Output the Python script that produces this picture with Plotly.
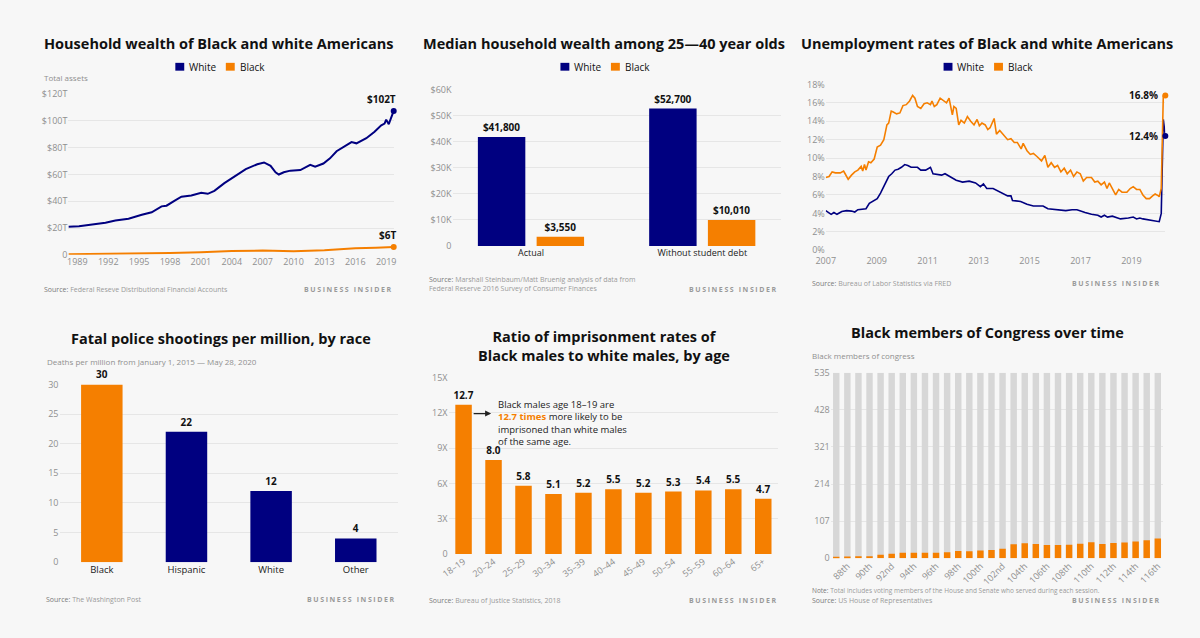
import plotly.graph_objects as go

W, H = 1200, 638
BG = "#f7f7f7"
NAVY = "#000080"
ORANGE = "#F57F00"
GRAY_BAR = "#d7d7d7"
GRID = "#e6e6e6"
TICK = "#8f8f8f"
DARK = "#1a1a1a"
FONT = "Open Sans"

# ---------------- data ----------------
# Household wealth (trillions USD)
wealth_white_t = [1988.13, 1989.16, 1990.44, 1991.73, 1992.69, 1993.97, 1995.26, 1996.22, 1997.18, 1997.66,
                  1998.46, 1999.11, 2000.07, 2001.03, 2001.67, 2002.31, 2003.28, 2004.24, 2005.36, 2006.48,
                  2007.13, 2007.77, 2008.25, 2008.57, 2009.05, 2009.69, 2010.66, 2011.62, 2012.10, 2012.90,
                  2013.54, 2014.18, 2015.15, 2015.63, 2016.11, 2017.07, 2017.87, 2018.52, 2018.84, 2019.00,
                  2019.25, 2019.48, 2019.73]
wealth_white = [20.9, 21.4, 22.6, 24.0, 25.7, 27.0, 29.9, 31.8, 36.2, 36.7,
                40.5, 43.4, 44.4, 46.4, 45.6, 47.8, 53.6, 58.7, 64.0, 67.7,
                69.0, 66.5, 61.6, 60.0, 61.7, 62.9, 63.3, 67.2, 65.8, 68.2,
                72.1, 77.4, 82.3, 84.2, 83.3, 87.1, 92.0, 96.8, 98.0, 101.0,
                97.6, 103.0, 107.5]
wealth_black_t = [1988.13, 1992.0, 1995.0, 1998.0, 2001.0, 2004.0, 2007.0, 2010.0, 2013.0, 2016.0, 2018.0, 2019.73]
wealth_black = [0.5, 0.7, 0.9, 1.3, 1.9, 2.9, 3.2, 2.7, 3.4, 4.9, 5.3, 5.8]
wealth_labels = ["$102T", "$6T"]

# Median household wealth, 25-40 year olds
median_groups = ["Actual", "Without student debt"]
median_white = [41800, 52700]
median_black = [3550, 10010]

# Unemployment rates (%)
unemp_white_t = [2007.00, 2007.13, 2007.21, 2007.32, 2007.44, 2007.63, 2007.82, 2008.01, 2008.14, 2008.26,
                 2008.45, 2008.58, 2008.71, 2008.90, 2009.02, 2009.15, 2009.34, 2009.47, 2009.59, 2009.72,
                 2009.84, 2009.97, 2010.10, 2010.22, 2010.35, 2010.48, 2010.60, 2010.73, 2010.92, 2011.05,
                 2011.11, 2011.21, 2011.36, 2011.55, 2011.68, 2011.87, 2012.12, 2012.37, 2012.63, 2012.88,
                 2013.07, 2013.19, 2013.32, 2013.57, 2013.89, 2014.14, 2014.27, 2014.33, 2014.65, 2014.90,
                 2015.15, 2015.53, 2015.72, 2016.04, 2016.17, 2016.42, 2016.67, 2016.86, 2017.18, 2017.43,
                 2017.68, 2017.81, 2017.94, 2018.06, 2018.25, 2018.57, 2018.88, 2019.07, 2019.20, 2019.33,
                 2019.45, 2019.71, 2020.02, 2020.09, 2020.17, 2020.25, 2020.33]
unemp_white = [4.3, 4.1, 3.9, 4.1, 3.9, 4.2, 4.3, 4.25, 4.15, 4.4,
               4.5, 4.5, 5.1, 5.4, 5.6, 6.2, 7.3, 8.0, 8.3, 8.7,
               8.8, 9.0, 9.3, 9.2, 9.0, 9.0, 9.0, 8.7, 8.7, 8.9,
               9.0, 8.3, 8.2, 8.15, 8.3, 8.0, 7.6, 7.4, 7.5, 7.3,
               6.9, 7.2, 6.7, 6.7, 6.3, 5.9, 5.9, 5.4, 5.3, 5.0,
               4.8, 4.8, 4.5, 4.4, 4.4, 4.3, 4.4, 4.4, 4.1, 3.9,
               3.8, 3.6, 3.8, 3.6, 3.7, 3.4, 3.5, 3.6, 3.4, 3.5,
               3.4, 3.3, 3.2, 3.1, 4.0, 14.2, 12.4]
unemp_black_t = [2007.00, 2007.13, 2007.25, 2007.38, 2007.57, 2007.70, 2007.76, 2007.88, 2008.01, 2008.14,
                 2008.26, 2008.33, 2008.39, 2008.45, 2008.52, 2008.58, 2008.68, 2008.77, 2008.90, 2009.02,
                 2009.15, 2009.28, 2009.40, 2009.47, 2009.57, 2009.65, 2009.78, 2009.91, 2010.03, 2010.16,
                 2010.29, 2010.41, 2010.50, 2010.60, 2010.73, 2010.86, 2010.98, 2011.11, 2011.17, 2011.26,
                 2011.36, 2011.49, 2011.61, 2011.74, 2011.84, 2011.97, 2012.03, 2012.12, 2012.22, 2012.31,
                 2012.44, 2012.56, 2012.69, 2012.82, 2012.94, 2013.03, 2013.13, 2013.26, 2013.36, 2013.45,
                 2013.61, 2013.70, 2013.83, 2014.02, 2014.14, 2014.27, 2014.40, 2014.52, 2014.67, 2014.75,
                 2014.90, 2015.03, 2015.15, 2015.28, 2015.47, 2015.60, 2015.72, 2015.85, 2015.98, 2016.10,
                 2016.23, 2016.36, 2016.48, 2016.61, 2016.73, 2016.86, 2016.99, 2017.11, 2017.24, 2017.43,
                 2017.56, 2017.68, 2017.81, 2017.94, 2018.04, 2018.13, 2018.25, 2018.38, 2018.50, 2018.63,
                 2018.82, 2018.95, 2019.07, 2019.20, 2019.33, 2019.45, 2019.58, 2019.71, 2019.83, 2019.93,
                 2020.06, 2020.09, 2020.17, 2020.25, 2020.33]
unemp_black = [7.9, 8.0, 8.5, 8.4, 8.4, 8.6, 8.3, 7.7, 8.15, 8.5,
               8.7, 8.9, 9.1, 8.6, 9.3, 8.7, 9.6, 9.5, 9.9, 11.2,
               11.4, 12.0, 13.6, 13.8, 15.1, 15.0, 14.8, 14.9, 15.7, 15.8,
               16.2, 16.8, 16.5, 15.6, 15.4, 15.9, 16.0, 15.8, 16.2, 15.6,
               15.8, 16.5, 16.3, 16.0, 16.5, 14.7, 15.6, 15.4, 13.6, 14.1,
               13.8, 14.5, 14.0, 13.6, 14.2, 13.5, 13.8, 13.6, 13.1, 13.3,
               14.3, 12.6, 13.0, 12.4, 12.0, 12.1, 11.7, 11.7, 11.0, 11.6,
               10.8, 10.4, 10.5, 10.2, 9.7, 10.3, 9.0, 9.5, 9.0, 9.2,
               8.5, 8.9, 8.3, 8.7, 8.0, 8.5, 8.3, 7.5, 7.9, 7.9,
               7.4, 7.5, 7.1, 7.4, 6.7, 7.3, 6.6, 6.0, 6.6, 6.3,
               6.3, 6.7, 6.9, 6.6, 6.6, 6.0, 5.6, 5.6, 5.9, 6.1,
               5.9, 5.8, 6.7, 16.7, 16.8]
unemp_labels = ["12.4%", "16.8%"]

# Fatal police shootings per million
police_races = ["Black", "Hispanic", "White", "Other"]
police_rates = [30, 22, 12, 4]

# Imprisonment ratio by age
ages = ["18–19", "20–24", "25–29", "30–34", "35–39", "40–44", "45–49", "50–54", "55–59", "60–64", "65+"]
ratios = [12.7, 8.0, 5.8, 5.1, 5.2, 5.5, 5.2, 5.3, 5.4, 5.5, 4.7]

# Black members of Congress
sessions = ["87th", "88th", "89th", "90th", "91st", "92nd", "93rd", "94th", "95th", "96th",
            "97th", "98th", "99th", "100th", "101st", "102nd", "103rd", "104th", "105th", "106th",
            "107th", "108th", "109th", "110th", "111th", "112th", "113th", "114th", "115th", "116th"]
black_members = [4, 5, 6, 6, 10, 13, 16, 16, 16, 16,
                 17, 21, 20, 22, 24, 27, 40, 43, 41, 38,
                 38, 39, 42, 46, 41, 44, 45, 48, 52, 57]
total_seats = 535
session_ticks = sessions[1::2]


# ---------------- helpers ----------------
def px(p):
    return p / W


def py(p):
    return 1 - p / H


def xdom(a, b):
    return [px(a), px(b)]


def ydom(top, bottom):
    return [py(bottom), py(top)]


annotations = []
shapes = []


def text(x, y, s, size=9, color=DARK, xanchor="left", yanchor="middle", bold=False, align="left", weight=None):
    f = dict(family=FONT, size=size, color=color)
    if bold:
        f["weight"] = "bold"
    elif weight:
        f["weight"] = weight
    annotations.append(dict(x=px(x), y=py(y), xref="paper", yref="paper", text=s, showarrow=False,
                            xanchor=xanchor, yanchor=yanchor, font=f, align=align))


def title(cx, cy, s):
    text(cx, cy, s, size=14.5, color="#111", xanchor="center", bold=True, align="center")


def legend(x0, y0):
    shapes.append(dict(type="rect", xref="paper", yref="paper", x0=px(x0), x1=px(x0 + 9),
                       y0=py(y0 + 4), y1=py(y0 - 4), fillcolor=NAVY, line=dict(width=0)))
    text(x0 + 12, y0, "White", size=10, color="#111")
    shapes.append(dict(type="rect", xref="paper", yref="paper", x0=px(x0 + 51), x1=px(x0 + 60),
                       y0=py(y0 + 4), y1=py(y0 - 4), fillcolor=ORANGE, line=dict(width=0)))
    text(x0 + 63, y0, "Black", size=10, color="#111")


def source(x, y, s):
    text(x, y, "<span style='color:#7a7a7a'>Source:</span> " + s, size=7, color="#9a9a9a")


def brand(xr, y):
    text(xr, y, "<span style='letter-spacing:1.6px'>BUSINESS INSIDER</span>", size=7, color="#9a9a9a",
         xanchor="right", bold=True)


def yax(domain, rng, tickvals, ticktext, anchor):
    return dict(domain=domain, range=rng, tickvals=tickvals, ticktext=ticktext, showgrid=True,
                gridcolor=GRID, gridwidth=1, zeroline=False, showline=False, ticks="",
                tickfont=dict(family=FONT, size=9, color=TICK), anchor=anchor, fixedrange=True)


def xax(domain, anchor, **kw):
    d = dict(domain=domain, showgrid=False, zeroline=False, showline=False, ticks="",
             tickfont=dict(family=FONT, size=9, color=TICK), anchor=anchor, fixedrange=True)
    d.update(kw)
    return d


fig = go.Figure()

# ---------- Panel 1: household wealth ----------
fig.add_trace(go.Scatter(x=wealth_white_t, y=wealth_white, mode="lines", line=dict(color=NAVY, width=2),
                         xaxis="x", yaxis="y", cliponaxis=False))
fig.add_trace(go.Scatter(x=wealth_black_t, y=wealth_black, mode="lines", line=dict(color=ORANGE, width=2),
                         xaxis="x", yaxis="y", cliponaxis=False))
fig.add_trace(go.Scatter(x=[wealth_white_t[-1], wealth_black_t[-1]], y=[wealth_white[-1], wealth_black[-1]],
                         mode="markers", marker=dict(color=[NAVY, ORANGE], size=6),
                         xaxis="x", yaxis="y", cliponaxis=False))
for xv, yv, lab in [(wealth_white_t[-1], wealth_white[-1], wealth_labels[0]),
                    (wealth_black_t[-1], wealth_black[-1], wealth_labels[1])]:
    annotations.append(dict(x=xv, y=yv, xref="x", yref="y", text="<b>" + lab + "</b>", showarrow=False,
                            xanchor="right", yanchor="bottom", xshift=4, yshift=3,
                            font=dict(family=FONT, size=10, color="#111")))
title(211, 37, "Household wealth of Black and white Americans")
legend(167, 61)
text(32, 72, "Total assets", size=8, color=TICK)
source(32, 288, "Federal Reseve Distributional Financial Accounts")
brand(389, 288)

# ---------- Panel 2: median wealth ----------
fig.add_trace(go.Bar(x=median_groups, y=median_white, marker=dict(color=NAVY, line=dict(width=0)),
                     width=0.277, offset=-0.31, xaxis="x2", yaxis="y2",
                     texttemplate="<b>$%{y:,}</b>", textposition="outside", cliponaxis=False,
                     constraintext="none", textfont=dict(family=FONT, size=10, color="#111")))
fig.add_trace(go.Bar(x=median_groups, y=median_black, marker=dict(color=ORANGE, line=dict(width=0)),
                     width=0.277, offset=0.033, xaxis="x2", yaxis="y2",
                     texttemplate="<b>$%{y:,}</b>", textposition="outside", cliponaxis=False,
                     constraintext="none", textfont=dict(family=FONT, size=10, color="#111")))
title(600, 37, "Median household wealth among 25—40 year olds")
legend(556, 61)
text(421, 283, "<span style='color:#7a7a7a'>Source:</span> Marshall Steinbaum/Matt Bruenig analysis of data from"
     "<br>Federal Reserve 2016 Survey of Consumer Finances", size=7, color="#9a9a9a")
brand(778, 288)

# ---------- Panel 3: unemployment ----------
fig.add_trace(go.Scatter(x=unemp_white_t, y=unemp_white, mode="lines", line=dict(color=NAVY, width=1.6),
                         xaxis="x3", yaxis="y3", cliponaxis=False))
fig.add_trace(go.Scatter(x=unemp_black_t, y=unemp_black, mode="lines", line=dict(color=ORANGE, width=1.6),
                         xaxis="x3", yaxis="y3", cliponaxis=False))
fig.add_trace(go.Scatter(x=[unemp_white_t[-1], unemp_black_t[-1]], y=[unemp_white[-1], unemp_black[-1]],
                         mode="markers", marker=dict(color=[NAVY, ORANGE], size=6),
                         xaxis="x3", yaxis="y3", cliponaxis=False))
for xv, yv, lab in [(unemp_white_t[-1], unemp_white[-1], unemp_labels[0]),
                    (unemp_black_t[-1], unemp_black[-1], unemp_labels[1])]:
    annotations.append(dict(x=xv, y=yv, xref="x3", yref="y3", text="<b>" + lab + "</b>", showarrow=False,
                            xanchor="right", yanchor="middle", xshift=-5,
                            font=dict(family=FONT, size=10, color="#111")))
title(987, 37, "Unemployment rates of Black and white Americans")
legend(943, 61)
source(808, 282, "Bureau of Labor Statistics via FRED")
brand(1165, 282)

# ---------- Panel 4: police shootings ----------
fig.add_trace(go.Bar(x=police_races, y=police_rates, marker=dict(color=[ORANGE, NAVY, NAVY, NAVY], line=dict(width=0)),
                     width=0.49, xaxis="x4", yaxis="y4", texttemplate="<b>%{y}</b>", textposition="outside",
                     cliponaxis=False, constraintext="none", textfont=dict(family=FONT, size=10, color="#111")))
title(213, 338, "Fatal police shootings per million, by race")
text(35, 362, "Deaths per million from January 1, 2015 — May 28, 2020", size=8, color=TICK)
source(34, 605, "The Washington Post")
brand(392, 605)

# ---------- Panel 5: imprisonment ratio ----------
fig.add_trace(go.Bar(x=ages, y=ratios, marker=dict(color=ORANGE, line=dict(width=0)),
                     width=0.55, xaxis="x5", yaxis="y5", texttemplate="<b>%{y:.1f}</b>", textposition="outside",
                     cliponaxis=False, constraintext="none", textfont=dict(family=FONT, size=10, color="#111")))
title(600, 346.5, "Ratio of imprisonment rates of<br>Black males to white males, by age")
text(490.5, 397, "Black males age 18–19 are<br><span style='color:#F57F00'><b>12.7 times</b></span> more likely to be"
     "<br>imprisoned than white males<br>of the same age.", size=9.5, color="#222", yanchor="top")
annotations.append(dict(x=px(486), y=py(415), xref="paper", yref="paper", ax=-19, ay=0,
                        axref="pixel", ayref="pixel", text="", showarrow=True, arrowhead=2, arrowsize=1,
                        arrowwidth=1.2, arrowcolor="#222"))
source(421, 606, "Bureau of Justice Statistics, 2018")
brand(778, 606)

# ---------- Panel 6: Congress ----------
fig.add_trace(go.Bar(x=sessions, y=[total_seats] * len(sessions), marker=dict(color=GRAY_BAR, line=dict(width=0)),
                     width=0.58, xaxis="x6", yaxis="y6"))
fig.add_trace(go.Bar(x=sessions, y=black_members, marker=dict(color=ORANGE, line=dict(width=0)),
                     width=0.58, xaxis="x6", yaxis="y6"))
title(987, 332, "Black members of Congress over time")
text(808, 356, "Black members of congress", size=8, color=TICK)
text(808, 596, "<span style='color:#7a7a7a'>Note:</span> Total includes voting members of the House and Senate who served during each session.",
     size=6.5, color="#9a9a9a")
source(808, 606, "US House of Representatives")
brand(1165, 606)

# ---------------- layout ----------------
fig.update_layout(
    width=W, height=H, margin=dict(l=0, r=0, t=0, b=0), autosize=False,
    paper_bgcolor=BG, plot_bgcolor=BG, showlegend=False, barmode="overlay",
    font=dict(family=FONT),
    annotations=annotations, shapes=shapes,
    # panel 1
    xaxis=xax(xdom(59, 388), "y", range=[1988.13, 2019.77], tickvals=list(range(1989, 2020, 3))),
    yaxis=yax(ydom(89, 253), [0, 120], [0, 20, 40, 60, 80, 100, 120],
              ["0", "$20T", "$40T", "$60T", "$80T", "$100T", "$120T"], "x"),
    # panel 2
    xaxis2=xax(xdom(447, 779), "y2", type="category", range=[-0.458, 1.461],
               tickfont=dict(family=FONT, size=9, color=DARK)),
    yaxis2=yax(ydom(84.3, 244), [0, 60000], [0, 10000, 20000, 30000, 40000, 50000, 60000],
               ["0", "$10K", "$20K", "$30K", "$40K", "$50K", "$60K"], "x2"),
    # panel 3
    xaxis3=xax(xdom(824, 1167), "y3", range=[2007.0, 2020.33], tickvals=list(range(2007, 2020, 2)),
               ticklabelstandoff=4),
    yaxis3=yax(ydom(79, 248.3), [0, 18], list(range(0, 19, 2)), [f"{v}%" for v in range(0, 19, 2)], "x3"),
    # panel 4
    xaxis4=xax(xdom(50, 392), "y4", type="category", tickfont=dict(family=FONT, size=9.5, color=DARK)),
    yaxis4=yax(ydom(385.3, 566.7), [0, 30], [0, 5, 10, 15, 20, 25, 30], ["0", "5", "10", "15", "20", "25", "30"], "x4"),
    # panel 5
    xaxis5=xax(xdom(443, 776), "y5", type="category", tickangle=-35),
    yaxis5=yax(ydom(378.3, 558.3), [0, 15], [0, 3, 6, 9, 12, 15], ["0", "3X", "6X", "9X", "12X", "15X"], "x5"),
    # panel 6
    xaxis6=xax(xdom(829, 1165), "y6", type="category", tickangle=-45, tickvals=session_ticks),
    yaxis6=yax(ydom(373.3, 562.7), [0, 535], [0, 107, 214, 321, 428, 535],
               ["0", "107", "214", "321", "428", "535"], "x6"),
)

fig.write_html("out.html", config={"responsive": False, "displayModeBar": False},
               post_script="document.body.style.margin='0';document.body.style.overflow='hidden';")
